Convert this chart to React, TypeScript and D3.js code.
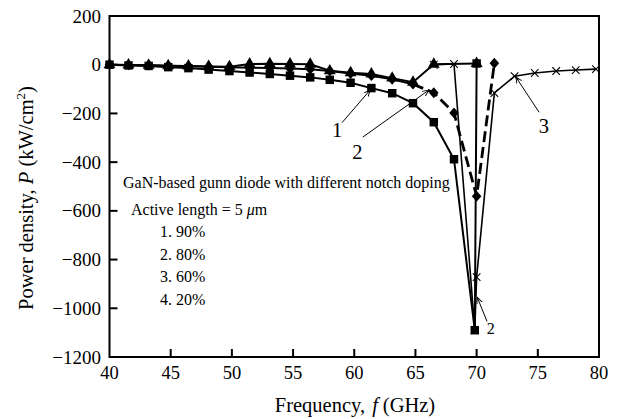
import { scaleLinear, line, symbol, symbolSquare, symbolTriangle } from "d3";

// frequency (GHz) / power density (kW/cm^2)
const freqSquare = [40, 41.55, 43.2, 44.8, 46.45, 48.1, 49.8, 51.45, 53.1, 54.75, 56.4, 58.0, 59.7, 61.4, 63.1, 64.8, 66.5, 68.15, 69.85, 70.0];
const powerSquare = [0, -3, -5, -10, -14, -20, -26, -32, -38, -45, -52, -62, -74, -96, -117, -158, -236, -388, -1090, 5];

const freqTriangle = [40, 41.55, 43.2, 44.8, 46.45, 48.1, 49.8, 51.45, 53.1, 54.75, 56.4, 58.0, 59.7, 61.4, 63.1, 64.8, 66.5, 70.0];
const powerTriangle = [0, -1, -2, -4, -5, -7, -8, 3, 4, 3, 2, -25, -33, -38, -55, -72, 2, 5];

const freqDiamond = [40, 41.55, 43.2, 44.8, 46.45, 48.1, 49.8, 51.45, 53.1, 54.75, 56.4, 58.0, 59.7, 61.4, 63.1, 64.8, 66.5, 68.15, 70.0, 71.45];
const powerDiamond = [0, -1, -2, -4, -6, -8, -10, -12, -14, -16, -19, -26, -36, -45, -60, -80, -115, -198, -540, 6];

const freqCross = [66.5, 68.15, 69.85, 70.0, 71.45, 73.1, 74.75, 76.5, 78.1, 79.75];
const powerCross = [0, 3, -1090, -872, -116, -47, -34, -26, -22, -18];

const xTicks = [40, 45, 50, 55, 60, 65, 70, 75, 80];
const yTicks = [200, 0, -200, -400, -600, -800, -1000, -1200];

const legendLines = ["1. 90%", "2. 80%", "3. 60%", "4. 20%"];

// curve labels: [text, textF, textP, fromF, fromP, toF, toP]
const curveLabels: [string, number, number, number, number, number, number][] = [
  ["1", 58.6, -268, 59.0, -238, 61.3, -104],
  ["2", 60.25, -358, 60.7, -297, 66.1, -104],
  ["3", 75.5, -250, 75.1, -195, 73.2, -50],
];
const bottomLabel: [string, number, number, number, number, number, number] = ["2", 71.15, -1082, 70.85, -1054, 70.05, -955];

const DASH_FROM = 64.8;
const FONT = "'Liberation Serif', 'Times New Roman', serif";

const zip = (f: number[], p: number[]) => f.map((v, i) => [v, p[i]] as [number, number]);

export default function App() {
  const width = 622;
  const height = 419;
  const x = scaleLinear().domain([40, 80]).range([109.5, 599]);
  const y = scaleLinear().domain([-1200, 200]).range([357, 16]);

  const path = line<[number, number]>()
    .x((d) => x(d[0]))
    .y((d) => y(d[1]));

  const squares = zip(freqSquare, powerSquare);
  const triangles = zip(freqTriangle, powerTriangle);
  const diamonds = zip(freqDiamond, powerDiamond);
  const crosses = zip(freqCross, powerCross);

  const squareSym = symbol().type(symbolSquare).size(72)()!;
  const triSym = symbol().type(symbolTriangle).size(62)()!;
  const diamondSym = "M0,-5.4L4.8,0L0,5.4L-4.8,0Z";
  const crossSym = "M-3.8,-3.8L3.8,3.8M-3.8,3.8L3.8,-3.8";

  return (
    <svg
      width={width}
      height={height}
      style={{ position: "absolute", left: 0, top: 0, background: "#fff" }}
      fontFamily={FONT}
    >
      <defs>
        <marker id="arr" viewBox="0 0 10 10" refX="9" refY="5" markerWidth="7" markerHeight="7" orient="auto">
          <path d="M0,1L9,5L0,9" fill="none" stroke="#000" strokeWidth="1.3" />
        </marker>
      </defs>
      <rect x={0} y={0} width={width} height={height} fill="#fff" />

      {/* curves */}
      <path d={path(triangles)!} fill="none" stroke="#000" strokeWidth={2} />
      <path d={path(diamonds.filter((d) => d[0] <= DASH_FROM))!} fill="none" stroke="#000" strokeWidth={2} />
      <path
        d={path(diamonds.filter((d) => d[0] >= DASH_FROM))!}
        fill="none"
        stroke="#000"
        strokeWidth={2.8}
        strokeDasharray="11,5"
      />
      <path d={path(crosses)!} fill="none" stroke="#000" strokeWidth={1.6} />
      <path d={path(squares)!} fill="none" stroke="#000" strokeWidth={2} />

      {/* markers */}
      {crosses.map((d, i) => (
        <path key={`c${i}`} d={crossSym} transform={`translate(${x(d[0])},${y(d[1])})`} stroke="#000" strokeWidth={1.1} fill="none" />
      ))}
      {triangles.map((d, i) => (
        <path key={`t${i}`} d={triSym} transform={`translate(${x(d[0])},${y(d[1])})`} fill="#000" />
      ))}
      {diamonds.map((d, i) => (
        <path key={`d${i}`} d={diamondSym} transform={`translate(${x(d[0])},${y(d[1])})`} fill="#000" />
      ))}
      {squares.map((d, i) => (
        <path key={`s${i}`} d={squareSym} transform={`translate(${x(d[0])},${y(d[1])})`} fill="#000" />
      ))}

      {/* frame */}
      <rect x={x(40)} y={y(200)} width={x(80) - x(40)} height={y(-1200) - y(200)} fill="none" stroke="#000" strokeWidth={2} />

      {/* ticks */}
      {xTicks.slice(1, -1).map((t) => (
        <line key={`xt${t}`} x1={x(t)} x2={x(t)} y1={y(-1200)} y2={y(-1200) - 8} stroke="#000" strokeWidth={2} />
      ))}
      {yTicks.slice(1, -1).map((t) => (
        <line key={`yt${t}`} x1={x(40)} x2={x(40) + 8} y1={y(t)} y2={y(t)} stroke="#000" strokeWidth={2} />
      ))}
      {xTicks.map((t) => (
        <text key={`xl${t}`} x={x(t)} y={379} textAnchor="middle" fontSize={18.5}>
          {t}
        </text>
      ))}
      {yTicks.map((t) => (
        <text key={`yl${t}`} x={101} y={y(t) + 6.5} textAnchor="end" fontSize={19}>
          {t < 0 ? `\u2212${Math.abs(t)}` : t}
        </text>
      ))}

      {/* axis titles */}
      <text x={355} y={412} textAnchor="middle" fontSize={20.5}>
        Frequency,
        <tspan dx={7} fontStyle="italic">f</tspan>
        <tspan dx={5}>(GHz)</tspan>
      </text>
      <text transform="translate(33,198) rotate(-90)" textAnchor="middle" fontSize={20.5}>
        Power density, <tspan fontStyle="italic">P</tspan> (kW/cm
        <tspan dy={-8} fontSize={13}>2</tspan>
        <tspan dy={8}>)</tspan>
      </text>

      {/* annotation */}
      <text x={123} y={188} fontSize={16}>
        GaN-based gunn diode with different notch doping
      </text>
      <text x={131} y={215} fontSize={16}>
        Active length = 5 <tspan fontStyle="italic">μ</tspan>m
      </text>
      {legendLines.map((s, i) => (
        <text key={s} x={160} y={237 + i * 22.7} fontSize={16}>
          {s}
        </text>
      ))}

      {/* curve labels */}
      {curveLabels.map(([s, tf, tp, f1, p1, f2, p2]) => (
        <g key={`cl${s}${tf}`}>
          <line x1={x(f1)} y1={y(p1)} x2={x(f2)} y2={y(p2)} stroke="#000" strokeWidth={1} markerEnd="url(#arr)" />
          <text x={x(tf)} y={y(tp) + 7} textAnchor="middle" fontSize={20.5}>
            {s}
          </text>
        </g>
      ))}
      <line
        x1={x(bottomLabel[3])}
        y1={y(bottomLabel[4])}
        x2={x(bottomLabel[5])}
        y2={y(bottomLabel[6])}
        stroke="#000"
        strokeWidth={1}
        markerEnd="url(#arr)"
      />
      <text x={x(bottomLabel[1])} y={y(bottomLabel[2]) + 5.5} textAnchor="middle" fontSize={16}>
        {bottomLabel[0]}
      </text>
    </svg>
  );
}
